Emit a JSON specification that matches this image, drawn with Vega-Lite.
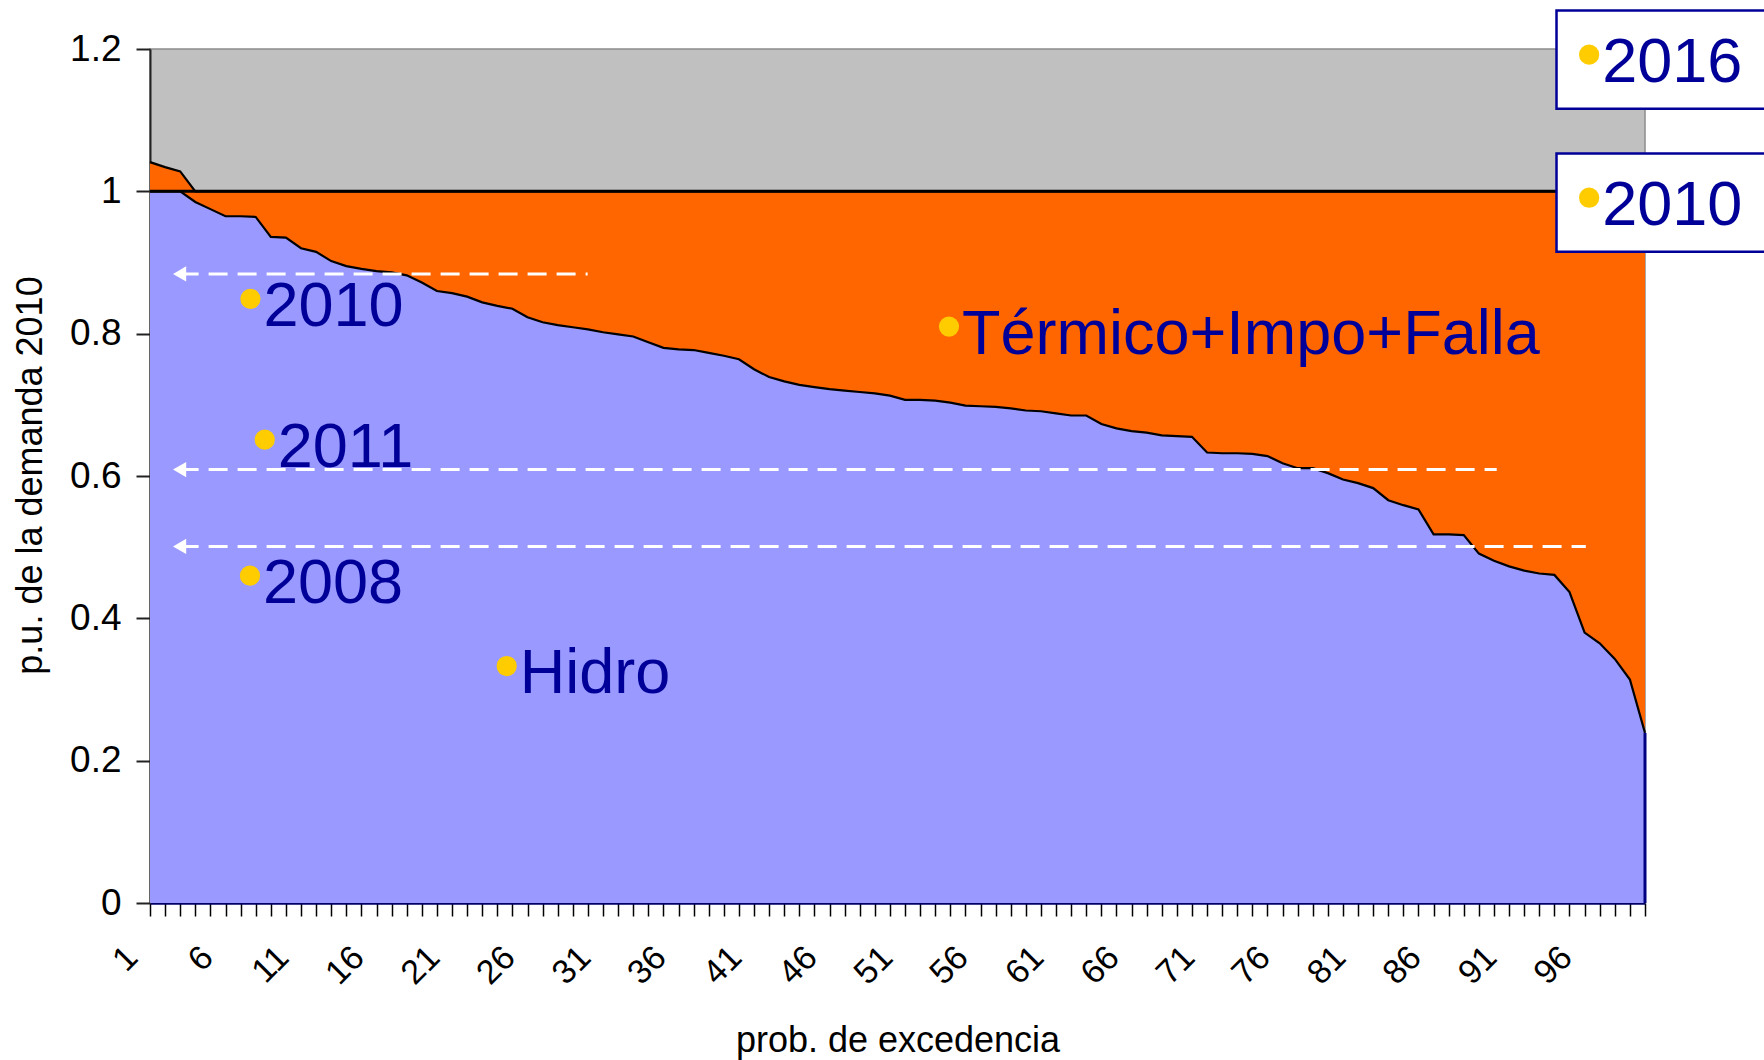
{
  "$schema": "https://vega.github.io/schema/vega-lite/v6.json",
  "autosize": {"type": "none"},
  "width": 1495,
  "height": 854,
  "padding": {"left": 150, "top": 49, "right": 119, "bottom": 157},
  "background": "white",
  "config": {
    "view": {"fill": "#C0C0C0", "stroke": "#8c8c8c", "strokeWidth": 1.5},
    "font": "Liberation Sans"
  },
  "datasets": {
    "curve": [
      {"i":1,"hidro":1.000,"total":1.041},{"i":2,"hidro":1.000,"total":1.034},{"i":3,"hidro":1.000,"total":1.028},{"i":4,"hidro":0.985,"total":1.0},{"i":5,"hidro":0.975,"total":1.0},
      {"i":6,"hidro":0.965,"total":1.0},{"i":7,"hidro":0.965,"total":1.0},{"i":8,"hidro":0.964,"total":1.0},{"i":9,"hidro":0.936,"total":1.0},{"i":10,"hidro":0.935,"total":1.0},
      {"i":11,"hidro":0.920,"total":1.0},{"i":12,"hidro":0.915,"total":1.0},{"i":13,"hidro":0.902,"total":1.0},{"i":14,"hidro":0.895,"total":1.0},{"i":15,"hidro":0.891,"total":1.0},
      {"i":16,"hidro":0.888,"total":1.0},{"i":17,"hidro":0.886,"total":1.0},{"i":18,"hidro":0.882,"total":1.0},{"i":19,"hidro":0.872,"total":1.0},{"i":20,"hidro":0.860,"total":1.0},
      {"i":21,"hidro":0.857,"total":1.0},{"i":22,"hidro":0.852,"total":1.0},{"i":23,"hidro":0.844,"total":1.0},{"i":24,"hidro":0.839,"total":1.0},{"i":25,"hidro":0.835,"total":1.0},
      {"i":26,"hidro":0.823,"total":1.0},{"i":27,"hidro":0.816,"total":1.0},{"i":28,"hidro":0.812,"total":1.0},{"i":29,"hidro":0.809,"total":1.0},{"i":30,"hidro":0.806,"total":1.0},
      {"i":31,"hidro":0.802,"total":1.0},{"i":32,"hidro":0.799,"total":1.0},{"i":33,"hidro":0.796,"total":1.0},{"i":34,"hidro":0.788,"total":1.0},{"i":35,"hidro":0.780,"total":1.0},
      {"i":36,"hidro":0.778,"total":1.0},{"i":37,"hidro":0.777,"total":1.0},{"i":38,"hidro":0.773,"total":1.0},{"i":39,"hidro":0.769,"total":1.0},{"i":40,"hidro":0.764,"total":1.0},
      {"i":41,"hidro":0.750,"total":1.0},{"i":42,"hidro":0.739,"total":1.0},{"i":43,"hidro":0.733,"total":1.0},{"i":44,"hidro":0.728,"total":1.0},{"i":45,"hidro":0.725,"total":1.0},
      {"i":46,"hidro":0.722,"total":1.0},{"i":47,"hidro":0.720,"total":1.0},{"i":48,"hidro":0.718,"total":1.0},{"i":49,"hidro":0.716,"total":1.0},{"i":50,"hidro":0.713,"total":1.0},
      {"i":51,"hidro":0.707,"total":1.0},{"i":52,"hidro":0.707,"total":1.0},{"i":53,"hidro":0.706,"total":1.0},{"i":54,"hidro":0.703,"total":1.0},{"i":55,"hidro":0.699,"total":1.0},
      {"i":56,"hidro":0.698,"total":1.0},{"i":57,"hidro":0.697,"total":1.0},{"i":58,"hidro":0.695,"total":1.0},{"i":59,"hidro":0.692,"total":1.0},{"i":60,"hidro":0.691,"total":1.0},
      {"i":61,"hidro":0.688,"total":1.0},{"i":62,"hidro":0.685,"total":1.0},{"i":63,"hidro":0.685,"total":1.0},{"i":64,"hidro":0.673,"total":1.0},{"i":65,"hidro":0.667,"total":1.0},
      {"i":66,"hidro":0.663,"total":1.0},{"i":67,"hidro":0.661,"total":1.0},{"i":68,"hidro":0.657,"total":1.0},{"i":69,"hidro":0.656,"total":1.0},{"i":70,"hidro":0.655,"total":1.0},
      {"i":71,"hidro":0.633,"total":1.0},{"i":72,"hidro":0.632,"total":1.0},{"i":73,"hidro":0.632,"total":1.0},{"i":74,"hidro":0.631,"total":1.0},{"i":75,"hidro":0.628,"total":1.0},
      {"i":76,"hidro":0.618,"total":1.0},{"i":77,"hidro":0.611,"total":1.0},{"i":78,"hidro":0.611,"total":1.0},{"i":79,"hidro":0.604,"total":1.0},{"i":80,"hidro":0.595,"total":1.0},
      {"i":81,"hidro":0.590,"total":1.0},{"i":82,"hidro":0.583,"total":1.0},{"i":83,"hidro":0.566,"total":1.0},{"i":84,"hidro":0.559,"total":1.0},{"i":85,"hidro":0.553,"total":1.0},
      {"i":86,"hidro":0.518,"total":1.0},{"i":87,"hidro":0.518,"total":1.0},{"i":88,"hidro":0.517,"total":1.0},{"i":89,"hidro":0.491,"total":1.0},{"i":90,"hidro":0.481,"total":1.0},
      {"i":91,"hidro":0.473,"total":1.0},{"i":92,"hidro":0.467,"total":1.0},{"i":93,"hidro":0.463,"total":1.0},{"i":94,"hidro":0.461,"total":1.0},{"i":95,"hidro":0.437,"total":1.0},
      {"i":96,"hidro":0.380,"total":1.0},{"i":97,"hidro":0.365,"total":1.0},{"i":98,"hidro":0.343,"total":1.0},{"i":99,"hidro":0.314,"total":1.0},{"i":100,"hidro":0.239,"total":1.0}
    ],
    "notes": [
      {"label":"2010","x":7.65,"y":0.849},
      {"label":"2011","x":8.60,"y":0.651},
      {"label":"2008","x":7.62,"y":0.460},
      {"label":"Hidro","x":24.62,"y":0.333},
      {"label":"Térmico+Impo+Falla","x":53.91,"y":0.810},
      {"label":"2016","x":96.3,"y":1.192},
      {"label":"2010","x":96.3,"y":0.991}
    ],
    "boxes": [
      {"x1":94.14,"x2":112,"y1":1.254,"y2":1.116},
      {"x1":94.14,"x2":112,"y1":1.053,"y2":0.915}
    ],
    "arrows": [
      {"x1":2.96,"x2":29.98,"y":0.884},
      {"x1":2.96,"x2":90.18,"y":0.609},
      {"x1":2.96,"x2":96.08,"y":0.501}
    ],
    "demand": [{"v":1}]
  },
  "layer": [
    {
      "data": {"name": "curve"},
      "mark": {"type": "area", "color": "#FF6600", "clip": true},
      "encoding": {
        "x": {"field": "i", "type": "quantitative",
          "scale": {"domain": [1, 100], "nice": false, "zero": false},
          "axis": {
            "values": [1,2,3,4,5,6,7,8,9,10,11,12,13,14,15,16,17,18,19,20,21,22,23,24,25,26,27,28,29,30,31,32,33,34,35,36,37,38,39,40,41,42,43,44,45,46,47,48,49,50,51,52,53,54,55,56,57,58,59,60,61,62,63,64,65,66,67,68,69,70,71,72,73,74,75,76,77,78,79,80,81,82,83,84,85,86,87,88,89,90,91,92,93,94,95,96,97,98,99,100],
            "tickCount": 300,
            "format": "d",
            "labelExpr": "(datum.value - 1) % 5 == 0 ? datum.label : ''",
            "labelAngle": -45, "labelAlign": "right", "labelBaseline": "middle",
            "labelPadding": 36, "labelOffset": -18, "labelFontSize": 34, "labelColor": "#000000",
            "labelOverlap": false, "labelFlush": false, "labelBound": false,
            "tickColor": "#000000", "tickSize": 13, "tickWidth": 1.5,
            "domainColor": "#000066", "domainWidth": 2.5, "grid": false,
            "title": "prob. de excedencia", "titleFontSize": 36, "titleFontWeight": "normal",
            "titleColor": "#000000", "titleY": 148, "titleBaseline": "alphabetic"
          }
        },
        "y": {"field": "total", "type": "quantitative",
          "scale": {"domain": [0, 1.2], "nice": false},
          "axis": {
            "values": [0, 0.2, 0.4, 0.6, 0.8, 1, 1.2], "format": "~g",
            "labelFontSize": 37, "labelColor": "#000000", "labelPadding": 15,
            "tickSize": 14, "tickWidth": 2, "tickColor": "#222222",
            "domainColor": "#222222", "domainWidth": 2, "grid": false,
            "title": "p.u. de la demanda 2010", "titleFontSize": 36, "titleFontWeight": "normal",
            "titleColor": "#000000", "titleX": -120, "titleY": 426, "titleBaseline": "middle", "titleAngle": -90
          }
        }
      }
    },
    {
      "data": {"name": "curve"},
      "mark": {"type": "line", "color": "#000000", "strokeWidth": 2.2},
      "encoding": {"x": {"field": "i", "type": "quantitative"}, "y": {"field": "total", "type": "quantitative"}}
    },
    {
      "data": {"name": "curve"},
      "mark": {"type": "area", "color": "#9999FF"},
      "encoding": {"x": {"field": "i", "type": "quantitative"}, "y": {"field": "hidro", "type": "quantitative"}}
    },
    {
      "data": {"name": "curve"},
      "mark": {"type": "line", "color": "#000000", "strokeWidth": 2.2},
      "encoding": {"x": {"field": "i", "type": "quantitative"}, "y": {"field": "hidro", "type": "quantitative"}}
    },
    {
      "data": {"name": "demand"},
      "mark": {"type": "rule", "color": "#000000", "strokeWidth": 3},
      "encoding": {"y": {"field": "v", "type": "quantitative"}}
    },
    {
      "data": {"name": "curve"},
      "transform": [{"filter": "datum.i == 100"}],
      "mark": {"type": "rule", "color": "#000080", "strokeWidth": 3},
      "encoding": {"x": {"field": "i", "type": "quantitative"}, "y": {"field": "hidro", "type": "quantitative"}, "y2": {"datum": 0}}
    },
    {
      "data": {"name": "arrows"},
      "mark": {"type": "rule", "color": "#FFFFFF", "strokeWidth": 3, "strokeDash": [19, 10]},
      "encoding": {"x": {"field": "x1", "type": "quantitative"}, "x2": {"field": "x2"}, "y": {"field": "y", "type": "quantitative"}}
    },
    {
      "data": {"name": "arrows"},
      "mark": {"type": "point", "shape": "triangle-left", "filled": true, "color": "#FFFFFF", "size": 230, "opacity": 1},
      "encoding": {"x": {"field": "x1", "type": "quantitative"}, "y": {"field": "y", "type": "quantitative"}}
    },
    {
      "data": {"name": "boxes"},
      "mark": {"type": "rect", "fill": "#FFFFFF", "stroke": "#000099", "strokeWidth": 2.5, "clip": false},
      "encoding": {"x": {"field": "x1", "type": "quantitative"}, "x2": {"field": "x2"}, "y": {"field": "y1", "type": "quantitative"}, "y2": {"field": "y2"}}
    },
    {
      "data": {"name": "notes"},
      "mark": {"type": "point", "shape": "circle", "filled": true, "color": "#FFCC00", "size": 410, "opacity": 1, "clip": false},
      "encoding": {"x": {"field": "x", "type": "quantitative"}, "y": {"field": "y", "type": "quantitative"}}
    },
    {
      "data": {"name": "notes"},
      "mark": {"type": "text", "align": "left", "baseline": "alphabetic", "dx": 13, "dy": 27, "fontSize": 63, "color": "#000099", "font": "Liberation Sans", "clip": false},
      "encoding": {"x": {"field": "x", "type": "quantitative"}, "y": {"field": "y", "type": "quantitative"}, "text": {"field": "label"}}
    }
  ]
}
